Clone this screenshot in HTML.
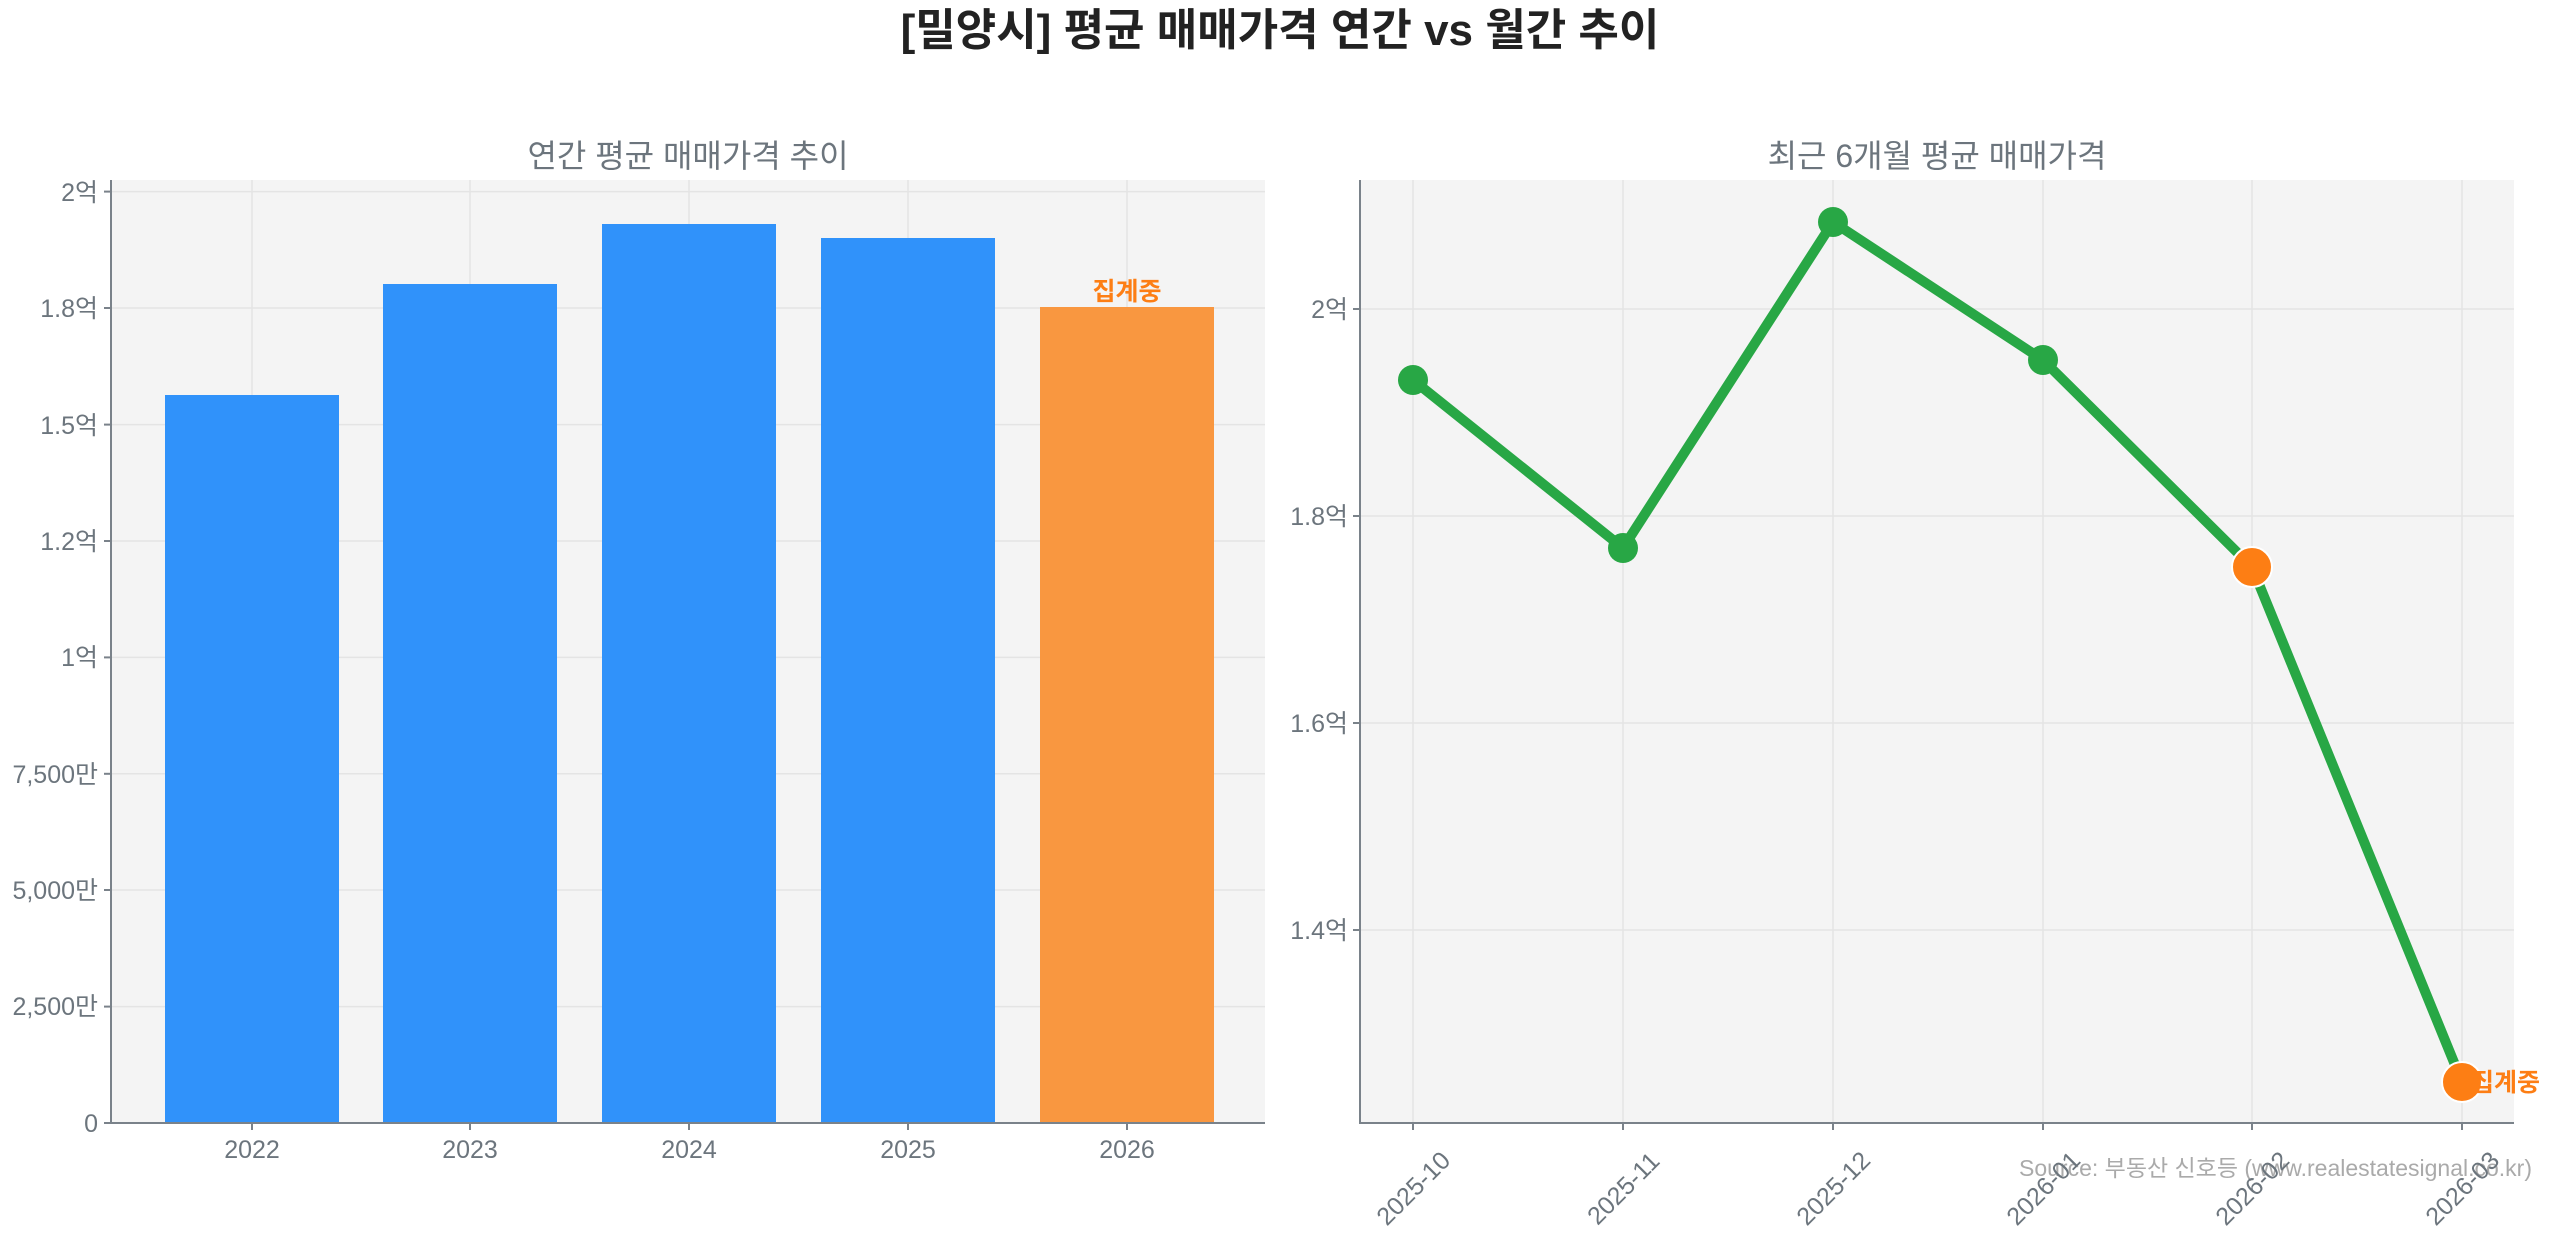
<!DOCTYPE html>
<html><head><meta charset="utf-8"><style>
html,body{margin:0;padding:0;background:#fff;}
svg{display:block;}
text{font-family:"Liberation Sans","Noto Sans CJK KR",sans-serif;}
</style></head><body>
<svg width="2560" height="1234" viewBox="0 0 2560 1234" xmlns="http://www.w3.org/2000/svg">
<rect width="2560" height="1234" fill="#fff"/>
<text x="1280" y="45" text-anchor="middle" font-size="44" font-weight="bold" fill="#222">[밀양시] 평균 매매가격 연간 vs 월간 추이</text>

<!-- Left panel -->
<text x="688" y="167" text-anchor="middle" font-size="32" fill="#6c757d">연간 평균 매매가격 추이</text>
<rect x="111" y="180" width="1154" height="943" fill="#f4f4f4"/>
<g stroke="#e4e4e4" stroke-width="1.5">
<line x1="252" y1="180" x2="252" y2="1123"/><line x1="470" y1="180" x2="470" y2="1123"/><line x1="689" y1="180" x2="689" y2="1123"/><line x1="908" y1="180" x2="908" y2="1123"/><line x1="1127" y1="180" x2="1127" y2="1123"/>
<line x1="111" y1="1006.6" x2="1265" y2="1006.6"/><line x1="111" y1="890" x2="1265" y2="890"/><line x1="111" y1="773.8" x2="1265" y2="773.8"/><line x1="111" y1="657.4" x2="1265" y2="657.4"/><line x1="111" y1="541" x2="1265" y2="541"/><line x1="111" y1="424.6" x2="1265" y2="424.6"/><line x1="111" y1="308" x2="1265" y2="308"/><line x1="111" y1="191.6" x2="1265" y2="191.6"/>
</g>
<rect x="165" y="395" width="174" height="728" fill="#3092fa"/>
<rect x="383" y="284" width="174" height="839" fill="#3092fa"/>
<rect x="602" y="224" width="174" height="899" fill="#3092fa"/>
<rect x="821" y="238" width="174" height="885" fill="#3092fa"/>
<rect x="1040" y="307" width="174" height="816" fill="#f99740"/>
<text x="1127" y="300" text-anchor="middle" font-size="25" font-weight="bold" fill="#fd7e14">집계중</text>
<g stroke="#7a828a" stroke-width="2"><line x1="111" y1="180" x2="111" y2="1124"/><line x1="110" y1="1123" x2="1265" y2="1123"/>
<line x1="104" y1="1123" x2="111" y2="1123"/><line x1="104" y1="1006.6" x2="111" y2="1006.6"/><line x1="104" y1="890" x2="111" y2="890"/><line x1="104" y1="773.8" x2="111" y2="773.8"/><line x1="104" y1="657.4" x2="111" y2="657.4"/><line x1="104" y1="541" x2="111" y2="541"/><line x1="104" y1="424.6" x2="111" y2="424.6"/><line x1="104" y1="308" x2="111" y2="308"/><line x1="104" y1="191.6" x2="111" y2="191.6"/>
<line x1="252" y1="1123" x2="252" y2="1130"/><line x1="470" y1="1123" x2="470" y2="1130"/><line x1="689" y1="1123" x2="689" y2="1130"/><line x1="908" y1="1123" x2="908" y2="1130"/><line x1="1127" y1="1123" x2="1127" y2="1130"/></g>
<g font-size="25" fill="#6c757d" text-anchor="end">
<text x="98" y="1132">0</text><text x="98" y="1015">2,500만</text><text x="98" y="899">5,000만</text><text x="98" y="783">7,500만</text><text x="98" y="666">1억</text><text x="98" y="550">1.2억</text><text x="98" y="434">1.5억</text><text x="98" y="317">1.8억</text><text x="98" y="201">2억</text>
</g>
<g font-size="25" fill="#6c757d" text-anchor="middle">
<text x="252" y="1158">2022</text><text x="470" y="1158">2023</text><text x="689" y="1158">2024</text><text x="908" y="1158">2025</text><text x="1127" y="1158">2026</text>
</g>

<!-- Right panel -->
<text x="1937" y="167" text-anchor="middle" font-size="32" fill="#6c757d">최근 6개월 평균 매매가격</text>
<rect x="1360" y="180" width="1154" height="943" fill="#f4f4f4"/>
<g stroke="#e4e4e4" stroke-width="1.5">
<line x1="1413" y1="180" x2="1413" y2="1123"/><line x1="1623" y1="180" x2="1623" y2="1123"/><line x1="1833" y1="180" x2="1833" y2="1123"/><line x1="2043" y1="180" x2="2043" y2="1123"/><line x1="2252" y1="180" x2="2252" y2="1123"/><line x1="2462" y1="180" x2="2462" y2="1123"/>
<line x1="1360" y1="309" x2="2514" y2="309"/><line x1="1360" y1="516" x2="2514" y2="516"/><line x1="1360" y1="723" x2="2514" y2="723"/><line x1="1360" y1="930" x2="2514" y2="930"/>
</g>
<polyline points="1413,380 1623,548 1833,222 2043,360 2252,567 2462,1082" fill="none" stroke="#28a745" stroke-width="10" stroke-linejoin="round"/>
<g fill="#28a745"><circle cx="1413" cy="380" r="15"/><circle cx="1623" cy="548" r="15"/><circle cx="1833" cy="222" r="15"/><circle cx="2043" cy="360" r="15"/></g>
<g fill="#fd7e14" stroke="#fff" stroke-width="2"><circle cx="2252" cy="567" r="20"/><circle cx="2462" cy="1082" r="20"/></g>
<text x="2471" y="1091" font-size="25" font-weight="bold" fill="#fd7e14">집계중</text>
<g stroke="#7a828a" stroke-width="2"><line x1="1360" y1="180" x2="1360" y2="1124"/><line x1="1359" y1="1123" x2="2514" y2="1123"/>
<line x1="1353" y1="309" x2="1360" y2="309"/><line x1="1353" y1="516" x2="1360" y2="516"/><line x1="1353" y1="723" x2="1360" y2="723"/><line x1="1353" y1="930" x2="1360" y2="930"/>
<line x1="1413" y1="1123" x2="1413" y2="1130"/><line x1="1623" y1="1123" x2="1623" y2="1130"/><line x1="1833" y1="1123" x2="1833" y2="1130"/><line x1="2043" y1="1123" x2="2043" y2="1130"/><line x1="2252" y1="1123" x2="2252" y2="1130"/><line x1="2462" y1="1123" x2="2462" y2="1130"/></g>
<g font-size="25" fill="#6c757d" text-anchor="end">
<text x="1348" y="318">2억</text><text x="1348" y="525">1.8억</text><text x="1348" y="732">1.6억</text><text x="1348" y="939">1.4억</text>
</g>
<text x="2532" y="1176" text-anchor="end" font-size="23" fill="#aaaaaa">Source: 부동산 신호등 (www.realestatesignal.co.kr)</text>
<g font-size="25" fill="#6c757d" text-anchor="middle">
<text transform="translate(1413,1188) rotate(-45)" y="9">2025-10</text>
<text transform="translate(1623,1188) rotate(-45)" y="9">2025-11</text>
<text transform="translate(1833,1188) rotate(-45)" y="9">2025-12</text>
<text transform="translate(2043,1188) rotate(-45)" y="9">2026-01</text>
<text transform="translate(2252,1188) rotate(-45)" y="9">2026-02</text>
<text transform="translate(2462,1188) rotate(-45)" y="9">2026-03</text>
</g>
</svg>
</body></html>
